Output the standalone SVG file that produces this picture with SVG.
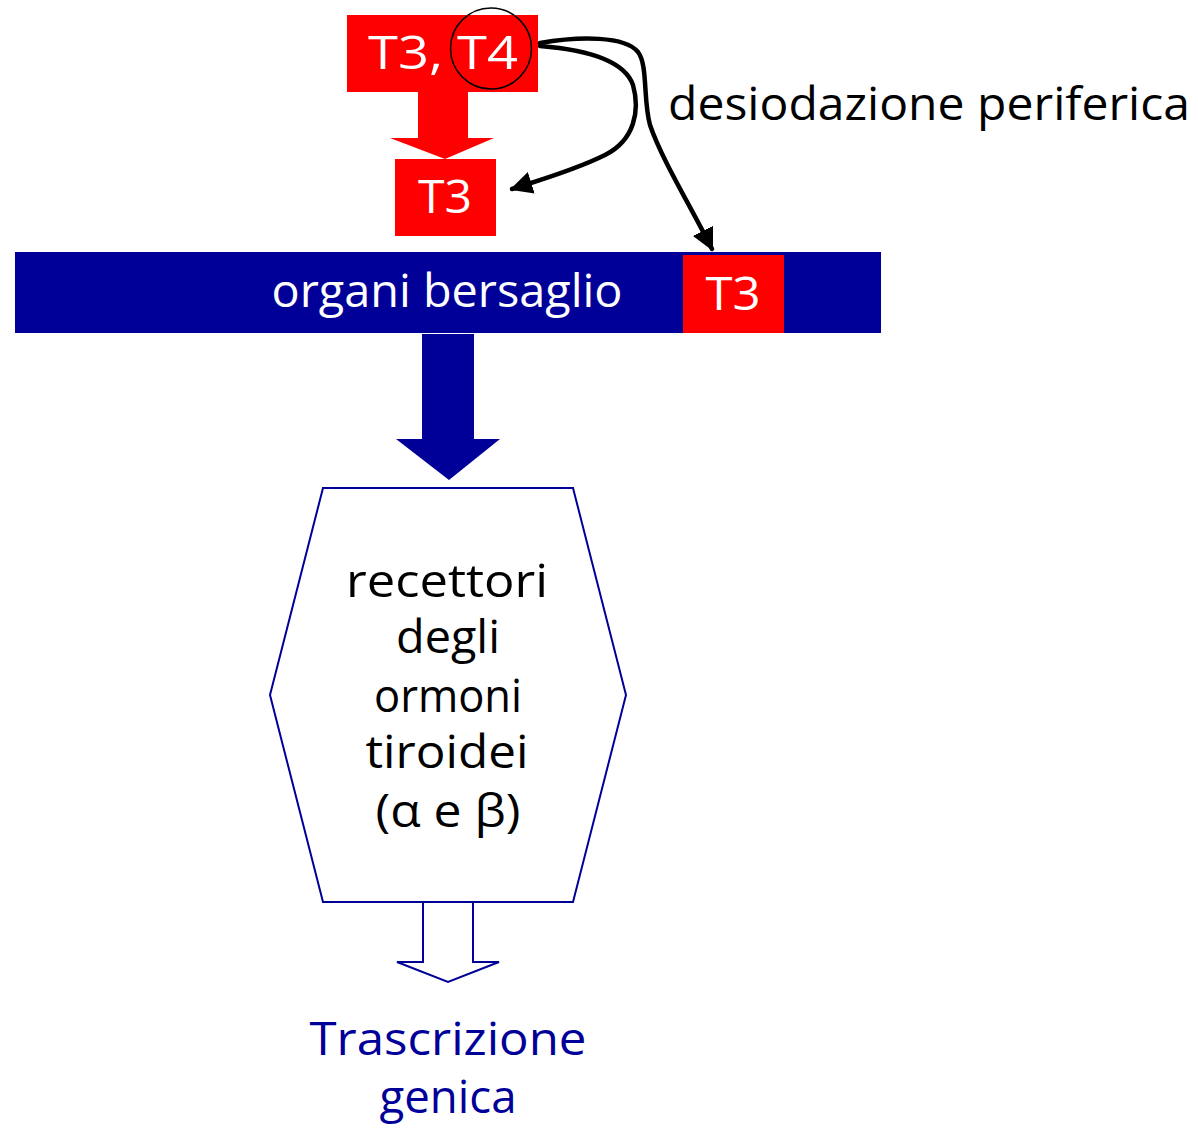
<svg xmlns="http://www.w3.org/2000/svg" width="1198" height="1128" viewBox="0 0 1198 1128">
<defs>
<style>
text{font-family:"Comic Sans MS","Open Sans","Liberation Sans",sans-serif;font-size:46px;text-anchor:middle}
.w{fill:#ffffff}
.k{fill:#000000}
.b{fill:#000099}
.red{fill:#ff0000}
.curve{fill:none;stroke:#000;stroke-width:4.5;stroke-linecap:round}
</style>
<marker id="ah" viewBox="0 0 10 10" refX="9" refY="5" markerWidth="5" markerHeight="5" markerUnits="strokeWidth" orient="auto">
<path d="M0,0 L10,5 L0,10 z" fill="#000"/>
</marker>
</defs>
<rect width="1198" height="1128" fill="#ffffff"/>

<g id="node-t3t4">
<rect class="red" x="347" y="15" width="191" height="77"/>
<text class="w" x="443" y="69" textLength="150" lengthAdjust="spacingAndGlyphs">T3, T4</text>
<circle cx="491" cy="48.5" r="40.5" fill="none" stroke="#000" stroke-width="1.5"/>
</g>

<g id="node-t3">
<rect class="red" x="395" y="159" width="101" height="77"/>
<text class="w" x="445" y="213" textLength="54" lengthAdjust="spacingAndGlyphs">T3</text>
</g>

<g id="node-organi">
<rect class="b" x="15" y="252" width="866" height="81"/>
<text class="w" x="447" y="307" textLength="351" lengthAdjust="spacingAndGlyphs">organi bersaglio</text>
<rect class="red" x="683" y="255" width="101" height="78"/>
<text class="w" x="733" y="310" textLength="55" lengthAdjust="spacingAndGlyphs">T3</text>
</g>

<g id="node-recettori">
<polygon points="323,488 573,488 626,695 573,902 323,902 270,695" fill="#ffffff" stroke="#000099" stroke-width="2"/>
<text class="k" x="447" y="597" textLength="202" lengthAdjust="spacingAndGlyphs">recettori</text>
<text class="k" x="448" y="653" textLength="104" lengthAdjust="spacingAndGlyphs">degli</text>
<text class="k" x="448" y="712" textLength="148" lengthAdjust="spacingAndGlyphs">ormoni</text>
<text class="k" x="447" y="768" textLength="163" lengthAdjust="spacingAndGlyphs">tiroidei</text>
<text class="k" x="448" y="827" textLength="145" lengthAdjust="spacingAndGlyphs">(α e β)</text>
</g>

<g id="node-trascrizione">
<text class="b" x="448" y="1055" textLength="277" lengthAdjust="spacingAndGlyphs">Trascrizione</text>
<text class="b" x="448" y="1113" textLength="137" lengthAdjust="spacingAndGlyphs">genica</text>
</g>

<g id="label-desiodazione">
<text class="k" x="929" y="120" textLength="522" lengthAdjust="spacingAndGlyphs">desiodazione periferica</text>
</g>

<g id="connectors">
<polygon class="red" points="418,92 468,92 468,138 494,138 445,159 390,138 418,138"/>
<polygon class="b" points="422,334 474,334 474,439 500,439 449,480 396,439 422,439"/>
<polygon points="423,902 473,902 473,962 499,962 448,982 397,962 423,962" fill="#ffffff" stroke="#000099" stroke-width="2"/>
<path class="curve" d="M540,46 C590,50 625,62 633,85 C640,110 635,140 605,155 C575,170 540,180 512,189" marker-end="url(#ah)"/>
<path class="curve" d="M540,43 C580,36 625,36 638,52 C648,65 643,100 650,125 C662,160 690,205 712,249" marker-end="url(#ah)"/>
</g>
</svg>
